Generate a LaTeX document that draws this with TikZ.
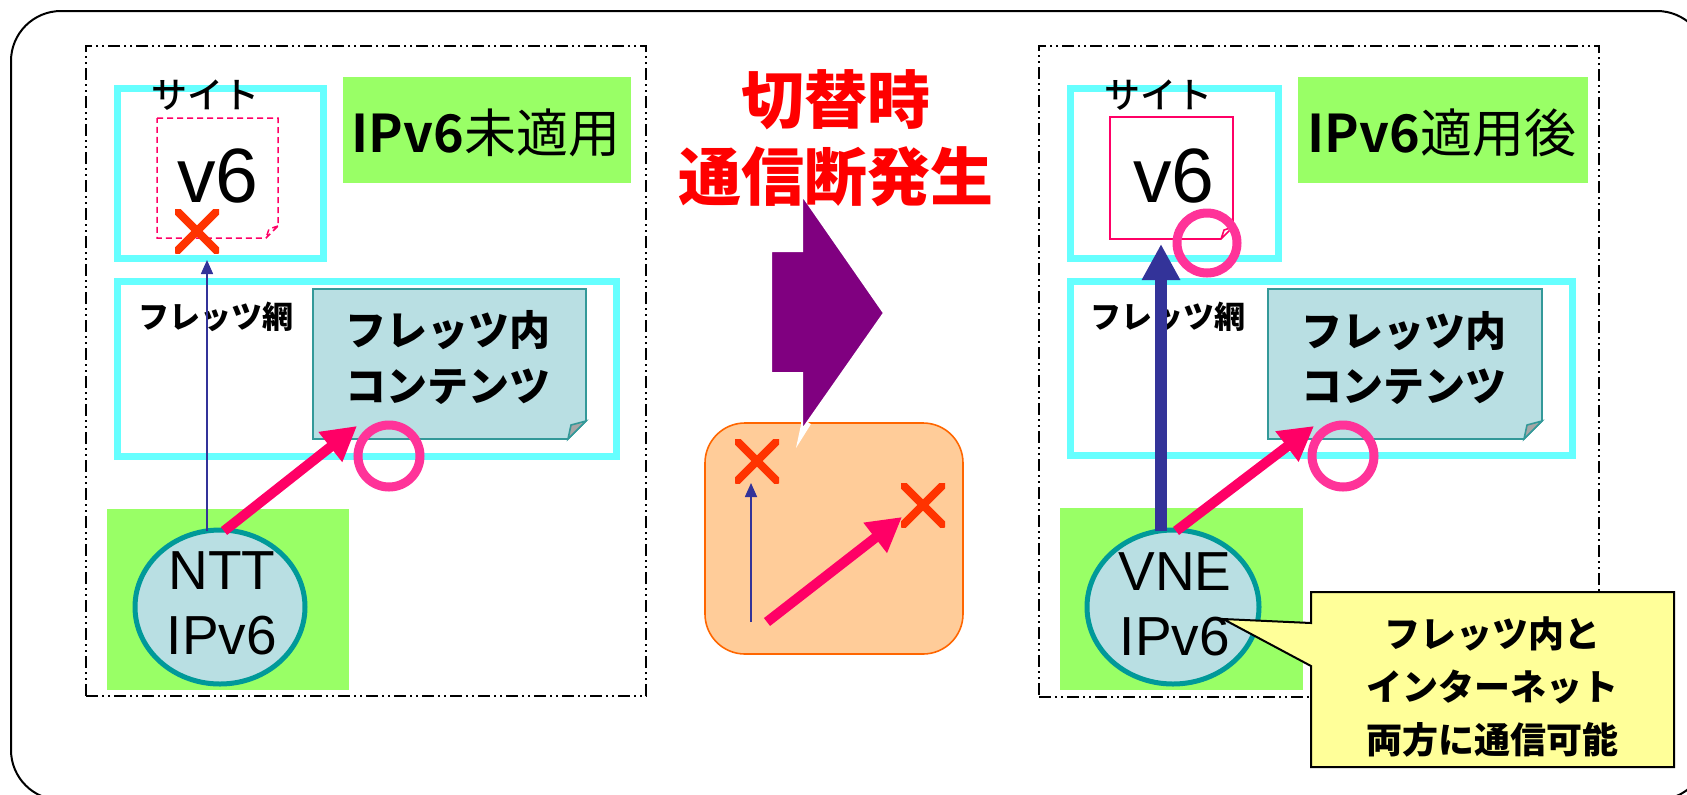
\documentclass[tikz,border=0pt]{standalone}
\usepackage{fontspec}
\newfontfamily\jp{Noto Sans CJK JP}[BoldFont={Noto Sans CJK JP Bold}]
\newfontfamily\jpk{Noto Sans CJK JP Black}
\newfontfamily\jpm{Noto Sans CJK JP Medium}
\newfontfamily\lat{Liberation Sans}
\usetikzlibrary{arrows.meta,shapes.geometric}
\definecolor{cyanc}{HTML}{66FFFF}
\definecolor{greenc}{HTML}{99FF66}
\definecolor{lbc}{HTML}{B9DFE3}
\definecolor{tealc}{HTML}{009999}
\definecolor{tealb}{HTML}{339999}
\definecolor{ringc}{HTML}{FF3399}
\definecolor{pinkc}{HTML}{FF0066}
\definecolor{xc}{HTML}{FF3300}
\definecolor{bluec}{HTML}{333399}
\definecolor{purplec}{HTML}{800080}
\definecolor{orfill}{HTML}{FFCC99}
\definecolor{orline}{HTML}{FF6600}
\definecolor{yelc}{HTML}{FFFF99}
\definecolor{redc}{HTML}{FF0000}
\definecolor{foldc}{HTML}{A6A6A6}
\newcommand\fz[1]{\fontsize{#1}{#1}\selectfont}
\begin{document}
\begin{tikzpicture}[x=0.5pt,y=-0.5pt,
  box/.style={inner sep=0pt, outer sep=0pt, rectangle},
  cyanbox/.style={box, draw=cyanc, line width=3.5pt},
  dashbox/.style={box, draw=black, line width=0.9pt, dash pattern=on 6pt off 2pt on 1pt off 2pt on 1pt off 2pt},
  greenbox/.style={box, fill=greenc},
  ring/.style={circle, draw=ringc, line width=4.5pt, minimum size=31pt, inner sep=0pt},
  xmk/.style={box, minimum size=22pt, path picture={\draw[xc, line width=4pt] (path picture bounding box.north west) -- (path picture bounding box.south east) (path picture bounding box.north east) -- (path picture bounding box.south west);}},
  ell/.style={ellipse, draw=tealc, fill=lbc, line width=2.5pt, inner sep=0pt},
  docline/.style={draw=tealb, line width=0.8pt, fill=lbc},
  thinblue/.style={draw=bluec, line width=0.8pt, -{Triangle[length=7pt,width=6pt]}},
  thickblue/.style={draw=bluec, line width=5.75pt, -{Triangle[length=18pt,width=18pt]}},
  pinkarrow/.style={draw=pinkc, line width=5pt, -{Triangle[length=17pt,width=18pt]}},
  sitet/.style={font=\jpm\fz{18pt}},
  flt/.style={font=\jpk\fz{15.5pt}},
  contt/.style={font=\jpk\fz{20.5pt}},
  lblt/.style={font=\jp\fz{26pt}},
  vsix/.style={font=\lat\fz{38.5pt}},
  ellt/.style={font=\lat\fontsize{27.5pt}{32.5pt}\selectfont, align=center, inner sep=0pt},
  redt/.style={font=\jpk\fz{31.5pt}, text=redc},
]
\path[use as bounding box] (0,0) rectangle (1687,794);
% outer frame
\draw[line width=1pt, rounded corners=25pt] (11,11) rectangle (1707,800);

% ================= LEFT PANEL =================
\node[dashbox, minimum width=280pt, minimum height=325pt] (panelL) at (366,371) {};
\node[greenbox, minimum width=144pt, minimum height=53pt] (lblL) at (487,130) {};
\node[lblt] (lblLT) at (486,133) {{\bfseries IPv6}未適用};
\node[cyanbox, minimum width=103pt, minimum height=85pt] (siteL) at (220,173) {};
\node[box, minimum width=60.5pt, minimum height=60pt] (docL) at (217.5,178) {};
\draw[draw=pinkc, line width=0.75pt, dash pattern=on 3pt off 2pt]
  (docL.north west) -- (docL.north east) -- ([yshift=6pt]docL.south east) -- ([xshift=-6pt]docL.south east) -- (docL.south west) -- cycle
  ([yshift=6pt]docL.south east) -- ([xshift=-4.5pt,yshift=4.5pt]docL.south east) -- ([xshift=-6pt]docL.south east);
\node[sitet] (siteLT) at (205,95) {サイト};
\node[vsix] (v6L) at (218,176) {v6};
\node[xmk] (xL) at (197,231) {};

\node[cyanbox, minimum width=249.5pt, minimum height=87.5pt] (flL) at (366.5,368.5) {};
\node[flt] (flLT) at (216,317) {フレッツ網};
\node[box, minimum width=136.5pt, minimum height=75pt] (contL) at (449.5,364) {};
\draw[docline] (contL.north west) -- (contL.north east) -- ([yshift=9pt]contL.south east) -- ([xshift=-9pt]contL.south east) -- (contL.south west) -- cycle;
\draw[docline, fill=foldc] ([yshift=9pt]contL.south east) -- ([xshift=-7.5pt,yshift=7pt]contL.south east) -- ([xshift=-9pt]contL.south east) -- cycle;
\node[contt] (contLa) at (448,330) {フレッツ内};
\node[contt] (contLb) at (448,387) {コンテンツ};

\node[greenbox, minimum width=121pt, minimum height=90.5pt] (gbgL) at (228,599.5) {};
\node[ell, minimum width=85pt, minimum height=77pt] (ntt) at (220,607) {};
\node[ellt] (nttT) at (222,603) {NTT\\IPv6};

\coordinate (aLs) at (207,531);
\coordinate (aLe) at (207,260);
\draw[thinblue] (aLs) -- (aLe);
\coordinate (pLs) at (224,531);
\coordinate (pLe) at (357,426);
\draw[pinkarrow] (pLs) -- (pLe);
\node[ring] (ringL) at (389,456) {};

% ================= MIDDLE =================
\node[box, draw=orline, fill=orfill, line width=0.8pt, rounded corners=20pt, minimum width=129pt, minimum height=115.5pt] (obox) at (834,538.5) {};
\coordinate (pa1) at (771,251);
\coordinate (pa2) at (802,251);
\coordinate (pa3) at (802,195);
\coordinate (pa4) at (884,313);
\coordinate (pa5) at (802,430);
\coordinate (pa6) at (802,373);
\coordinate (pa7) at (771,373);
\fill[white] (802,420) -- (796,448) -- (811,424) -- cycle;
\draw[fill=purplec, draw=white, line width=1pt] (pa1) -- (pa2) -- (pa3) -- (pa4) -- (pa5) -- (pa6) -- (pa7) -- cycle;
\node[redt] (redA) at (836,100) {切替時};
\node[redt] (redB) at (836,177) {通信断発生};

\node[xmk] (xMa) at (757,461) {};
\node[xmk] (xMb) at (923,505) {};
\coordinate (aMs) at (751,622);
\draw[thinblue] (aMs) -- (xMa.south -| aMs);
\coordinate (pMs) at (767,622);
\coordinate (pMe) at (902,517);
\draw[pinkarrow] (pMs) -- (pMe);

% ================= RIGHT PANEL =================
\node[dashbox, minimum width=280pt, minimum height=325.5pt] (panelR) at (1319,371.5) {};
\node[greenbox, minimum width=145pt, minimum height=53pt] (lblR) at (1443,130) {};
\node[lblt] (lblRT) at (1442,133) {{\bfseries IPv6}適用後};
\node[cyanbox, minimum width=104pt, minimum height=85pt] (siteR) at (1174,173) {};
\node[box, minimum width=61.5pt, minimum height=61pt] (docR) at (1171.5,178) {};
\draw[draw=pinkc, line width=0.8pt]
  (docR.north west) -- (docR.north east) -- ([yshift=6pt]docR.south east) -- ([xshift=-6pt]docR.south east) -- (docR.south west) -- cycle
  ([yshift=6pt]docR.south east) -- ([xshift=-4.5pt,yshift=4.5pt]docR.south east) -- ([xshift=-6pt]docR.south east);
\node[sitet] (siteRT) at (1158,95) {サイト};
\node[vsix] (v6R) at (1174,176) {v6};

\node[cyanbox, minimum width=251pt, minimum height=87pt] (flR) at (1321,368) {};
\node[flt] (flRT) at (1168,317) {フレッツ網};
\node[box, minimum width=137pt, minimum height=75pt] (contR) at (1405,364) {};
\draw[docline] (contR.north west) -- (contR.north east) -- ([yshift=9pt]contR.south east) -- ([xshift=-9pt]contR.south east) -- (contR.south west) -- cycle;
\draw[docline, fill=foldc] ([yshift=9pt]contR.south east) -- ([xshift=-7.5pt,yshift=7pt]contR.south east) -- ([xshift=-9pt]contR.south east) -- cycle;
\node[contt] (contRa) at (1404,331) {フレッツ内};
\node[contt] (contRb) at (1404,387) {コンテンツ};

\node[greenbox, minimum width=121.5pt, minimum height=91pt] (gbgR) at (1181.5,599) {};
\node[ell, minimum width=86pt, minimum height=77pt] (vne) at (1173,607) {};
\node[ellt] (vneT) at (1175,604) {VNE\\IPv6};

\coordinate (aRs) at (1161,531);
\coordinate (aRe) at (1161,244);
\draw[thickblue] (aRs) -- (aRe);
\coordinate (pRs) at (1176,531);
\coordinate (pRe) at (1314,426);
\draw[pinkarrow] (pRs) -- (pRe);
\node[ring, minimum size=30pt] (ringRa) at (1207,243) {};
\node[ring] (ringRb) at (1343,456) {};

% callout
\coordinate (ctip) at (1223,619);
\draw[fill=yelc, line width=1pt] (1311,592) -- (1674,592) -- (1674,767) -- (1311,767) -- (1311,666) -- (ctip) -- (1311,623) -- cycle;
\node[font=\jpk\fontsize{18pt}{26.5pt}\selectfont, align=center] (callT) at (1492,687) {フレッツ内と\\インターネット\\両方に通信可能};
\end{tikzpicture}
\end{document}
